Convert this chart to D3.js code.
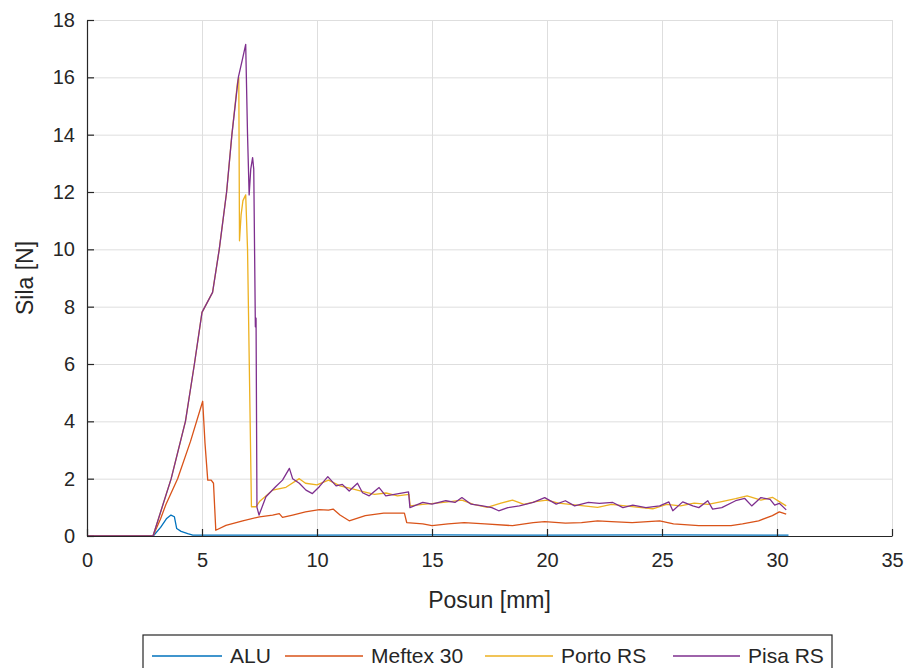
<!DOCTYPE html>
<html lang="en">
<head>
	<meta charset="utf-8">
	<title>Sila vs posun</title>
	<script type="text/javascript" src="https://cdn.jsdelivr.net/npm/d3@7/dist/d3.min.js" charset="utf-8"></script>
	<style>
		body { margin: 0; background: #fff; }
		text { font-family: "Liberation Sans", Arial, sans-serif; fill: #262626; }
	</style>
</head>
<body>
	<script type="text/javascript">
		// series names and colours (MATLAB default order)
		var seriesNames = ["ALU", "Meftex 30", "Porto RS", "Pisa RS"];
		var seriesColors = ["#0072BD", "#D95319", "#EDB120", "#7E2F8E"];
		var xTicks = [0, 5, 10, 15, 20, 25, 30, 35];
		var yTicks = [0, 2, 4, 6, 8, 10, 12, 14, 16, 18];

		// [posun mm, sila N]
		var alu = [[0,0],[2.88,0],[3.2,0.3],[3.45,0.6],[3.65,0.73],[3.8,0.67],[3.9,0.26],[4.09,0.16],[4.38,0.08],[4.6,0.03],
			[10,0.03],[15,0.04],[20,0.03],[25,0.04],[30.5,0.03]];

		var meftex = [[0,0],[2.87,0],[3.2,0.6],[3.43,1.1],[3.94,2.0],[4.5,3.3],[5.03,4.7],[5.13,3.24],[5.25,1.95],[5.4,1.95],
			[5.5,1.84],[5.6,0.2],[6.04,0.37],[6.77,0.53],[7.5,0.67],[8.07,0.73],[8.36,0.78],[8.5,0.65],[8.94,0.73],[9.5,0.84],
			[10.1,0.92],[10.5,0.9],[10.7,0.94],[11.0,0.73],[11.4,0.53],[12.1,0.71],[12.9,0.8],[13.8,0.8],[13.9,0.47],[14.6,0.42],
			[15.0,0.36],[15.7,0.42],[16.4,0.47],[17.3,0.42],[18.5,0.36],[19.4,0.47],[19.9,0.5],[20.8,0.45],[21.5,0.47],[22.2,0.53],
			[22.8,0.5],[23.7,0.47],[24.9,0.53],[25.5,0.42],[26.6,0.36],[28.0,0.36],[28.5,0.42],[29.2,0.53],[29.8,0.71],[30.1,0.84],
			[30.4,0.76]];

		var porto = [[0,0],[2.87,0],[3.66,2],[4.28,4],[4.67,6],[5.0,7.8],[5.46,8.5],[5.75,10],[6.07,12],[6.3,14],[6.54,15.8],
			[6.6,16.0],[6.63,10.3],[6.7,11.2],[6.78,11.7],[6.9,11.9],[6.98,10],[7.15,1.02],[7.35,1.02],[7.5,1.2],[8.07,1.6],
			[8.65,1.7],[9.23,2.0],[9.5,1.84],[10.0,1.78],[10.5,1.95],[11.0,1.75],[11.5,1.65],[12.0,1.55],[12.5,1.45],[13.0,1.5],
			[13.5,1.4],[14.0,1.45],[14.05,1.05],[14.6,1.1],[15.2,1.15],[15.8,1.2],[16.3,1.25],[16.8,1.1],[17.4,1.0],[18.0,1.15],
			[18.5,1.25],[19.0,1.1],[19.5,1.2],[20.0,1.25],[20.5,1.15],[21.0,1.1],[21.6,1.05],[22.2,1.0],[22.8,1.1],[23.4,1.05],
			[24.0,1.0],[24.6,0.95],[25.2,1.1],[25.8,1.05],[26.4,1.15],[27.0,1.1],[27.6,1.2],[28.2,1.3],[28.7,1.4],[29.3,1.25],
			[29.8,1.35],[30.1,1.2],[30.4,1.05]];

		var pisa = [[0,0],[2.87,0],[3.66,2],[4.28,4],[4.67,6],[5.0,7.8],[5.46,8.5],[5.75,10],[6.07,12],[6.3,14],[6.58,16],
			[6.75,16.6],[6.9,17.15],[6.98,14],[7.05,11.9],[7.12,12.8],[7.2,13.2],[7.25,12.8],[7.32,7.3],[7.35,7.6],[7.39,1.0],
			[7.48,0.73],[7.78,1.37],[8.2,1.72],[8.5,1.95],[8.8,2.36],[8.94,2.0],[9.23,1.84],[9.52,1.6],[9.8,1.48],[10.1,1.72],
			[10.47,2.07],[10.83,1.75],[11.1,1.8],[11.4,1.57],[11.76,1.84],[11.98,1.51],[12.27,1.4],[12.7,1.69],[12.99,1.4],
			[13.43,1.46],[13.98,1.54],[14.04,0.99],[14.6,1.17],[15.0,1.11],[15.6,1.23],[16.0,1.17],[16.3,1.34],[16.7,1.11],
			[17.2,1.05],[17.6,0.99],[17.9,0.88],[18.3,0.99],[18.8,1.05],[19.4,1.17],[19.9,1.34],[20.4,1.11],[20.8,1.23],[21.2,1.05],
			[21.8,1.17],[22.28,1.14],[22.86,1.17],[23.3,0.99],[23.73,1.08],[24.3,0.99],[24.9,1.05],[25.3,1.19],[25.47,0.88],
			[25.9,1.19],[26.34,1.05],[26.6,0.99],[26.99,1.23],[27.2,0.94],[27.6,0.99],[28.2,1.23],[28.6,1.31],[28.9,1.05],
			[29.3,1.34],[29.7,1.28],[29.9,1.08],[30.1,1.14],[30.3,0.99],[30.4,0.91]];

		var seriesData = [alu, meftex, porto, pisa];

		// margins
		var margin = {top: 20, right: 17, bottom: 132, left: 87};
		var width = 909, height = 668;
		var w = width - margin.left - margin.right;
		var h = height - margin.top - margin.bottom;

		var svg = d3.select("body").append("svg")
			.attr("width", width)
			.attr("height", height);
		var g = svg.append("g")
			.attr("transform", "translate(" + margin.left + "," + margin.top + ")");

		var xScale = d3.scaleLinear().domain([0, 35]).range([0, w]);
		var yScale = d3.scaleLinear().domain([0, 18]).range([h, 0]);

		// grid
		g.append("g").attr("class", "grid")
			.attr("transform", "translate(0," + h + ")")
			.call(d3.axisBottom(xScale).tickValues(xTicks).tickSize(-h).tickFormat(""));
		g.append("g").attr("class", "grid")
			.call(d3.axisLeft(yScale).tickValues(yTicks).tickSize(-w).tickFormat(""));
		g.selectAll(".grid line").attr("stroke", "#dedede").attr("stroke-width", 1);
		g.selectAll(".grid .domain").remove();

		// lines
		var line = d3.line()
			.x(function(d) { return xScale(d[0]); })
			.y(function(d) { return yScale(d[1]); });
		seriesData.forEach(function(s, i) {
			g.append("path")
				.datum(s)
				.attr("fill", "none")
				.attr("stroke", seriesColors[i])
				.attr("stroke-width", 1.3)
				.attr("stroke-linejoin", "round")
				.attr("d", line);
		});

		// axes, ticks pointing inside
		var xAxis = d3.axisBottom(xScale).tickValues(xTicks).tickSizeInner(-7).tickSizeOuter(0).tickPadding(17);
		var yAxis = d3.axisLeft(yScale).tickValues(yTicks).tickSizeInner(-7).tickSizeOuter(0).tickPadding(12);
		var gx = g.append("g").attr("transform", "translate(0," + h + ")").call(xAxis);
		var gy = g.append("g").call(yAxis);
		[gx, gy].forEach(function(a) {
			a.selectAll("path, line").attr("stroke", "#262626").attr("stroke-width", 1.2);
			a.selectAll("text").style("font-size", "20px").attr("fill", "#262626");
		});

		// axis titles
		svg.append("text")
			.attr("x", margin.left + w / 2)
			.attr("y", 608)
			.attr("text-anchor", "middle")
			.style("font-size", "23px")
			.text("Posun [mm]");
		svg.append("text")
			.attr("transform", "translate(33," + (margin.top + h / 2) + ") rotate(-90)")
			.attr("text-anchor", "middle")
			.style("font-size", "23px")
			.text("Sila [N]");

		// legend
		var legend = svg.append("g").attr("transform", "translate(143,635)");
		legend.append("rect")
			.attr("width", 689).attr("height", 42)
			.attr("fill", "#fff").attr("stroke", "#262626").attr("stroke-width", 1.2);
		var legendX = [9, 142, 342, 530];
		var lineLen = [70, 78, 68, 67];
		seriesNames.forEach(function(name, i) {
			var item = legend.append("g").attr("transform", "translate(" + legendX[i] + ",0)");
			item.append("line")
				.attr("x1", 0).attr("x2", lineLen[i])
				.attr("y1", 21).attr("y2", 21)
				.attr("stroke", seriesColors[i]).attr("stroke-width", 1.4);
			item.append("text")
				.attr("x", lineLen[i] + 8).attr("y", 21).attr("dy", "0.35em")
				.style("font-size", "21px")
				.text(name);
		});
	</script>
</body>
</html>
